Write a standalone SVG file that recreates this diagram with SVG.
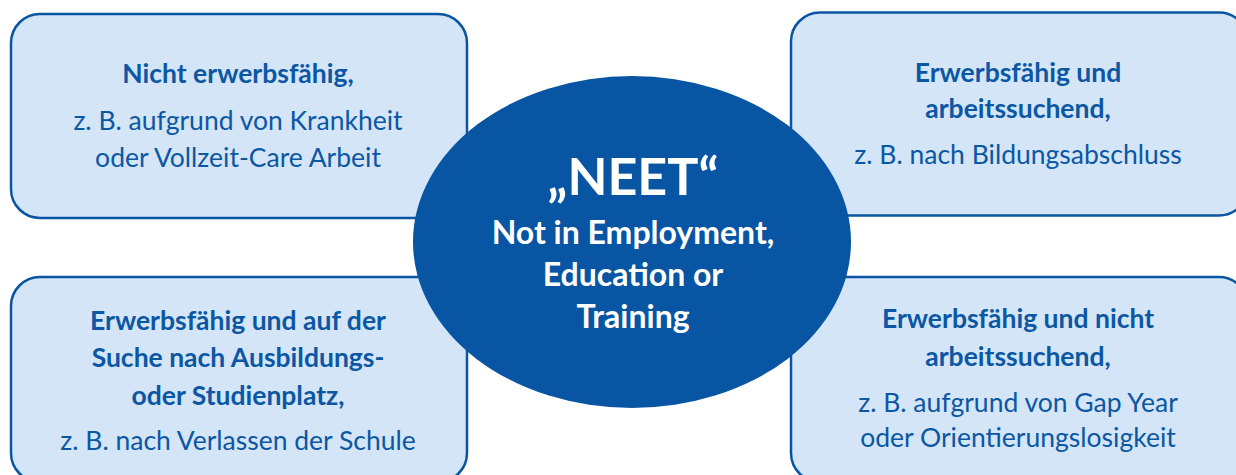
<svg xmlns="http://www.w3.org/2000/svg" width="1236" height="475" viewBox="0 0 1236 475">
<style>
.box{fill:#d3e5f6;stroke:#0a55a3;stroke-width:2.5}
.t{font-family:Lato,"Liberation Sans",sans-serif;fill:#0b57a4;text-anchor:middle}
.b{font-weight:700;font-size:26.5px}
.r{font-weight:400;font-size:26.5px}
.w{font-family:Lato,"Liberation Sans",sans-serif;fill:#ffffff;text-anchor:middle;font-weight:700}
</style>
<rect width="1236" height="475" fill="#ffffff"/>
<g id="connectors"></g>
<g id="node-tl">
<rect class="box" x="11" y="14" width="456" height="204" rx="29"/>
<text class="t b" x="238" y="83">Nicht erwerbsfähig,</text>
<text class="t r" x="238" y="130">z. B. aufgrund von Krankheit</text>
<text class="t r" x="238" y="167">oder Vollzeit-Care Arbeit</text>
</g>
<g id="node-tr">
<rect class="box" x="791" y="12.5" width="457" height="203" rx="29"/>
<text class="t b" x="1018" y="82">Erwerbsfähig und</text>
<text class="t b" x="1018" y="118">arbeitssuchend,</text>
<text class="t r" x="1018" y="164">z. B. nach Bildungsabschluss</text>
</g>
<g id="node-bl">
<rect class="box" x="11" y="277" width="456" height="205" rx="29"/>
<text class="t b" x="238" y="330">Erwerbsfähig und auf der</text>
<text class="t b" x="238" y="367">Suche nach Ausbildungs-</text>
<text class="t b" x="238" y="405">oder Studienplatz,</text>
<text class="t r" x="238" y="450">z. B. nach Verlassen der Schule</text>
</g>
<g id="node-br">
<rect class="box" x="791" y="277" width="457" height="205" rx="29"/>
<text class="t b" x="1018" y="328">Erwerbsfähig und nicht</text>
<text class="t b" x="1018" y="366">arbeitssuchend,</text>
<text class="t r" x="1018" y="412">z. B. aufgrund von Gap Year</text>
<text class="t r" x="1018" y="447">oder Orientierungslosigkeit</text>
</g>
<g id="node-center">
<ellipse cx="632" cy="242" rx="219" ry="166" fill="#0855a3"/>
<text class="w" x="633" y="195" font-size="52">„NEET“</text>
<text class="w" x="633" y="244" font-size="32">Not in Employment,</text>
<text class="w" x="633" y="286" font-size="32">Education or</text>
<text class="w" x="633" y="328" font-size="32">Training</text>
</g>
</svg>
